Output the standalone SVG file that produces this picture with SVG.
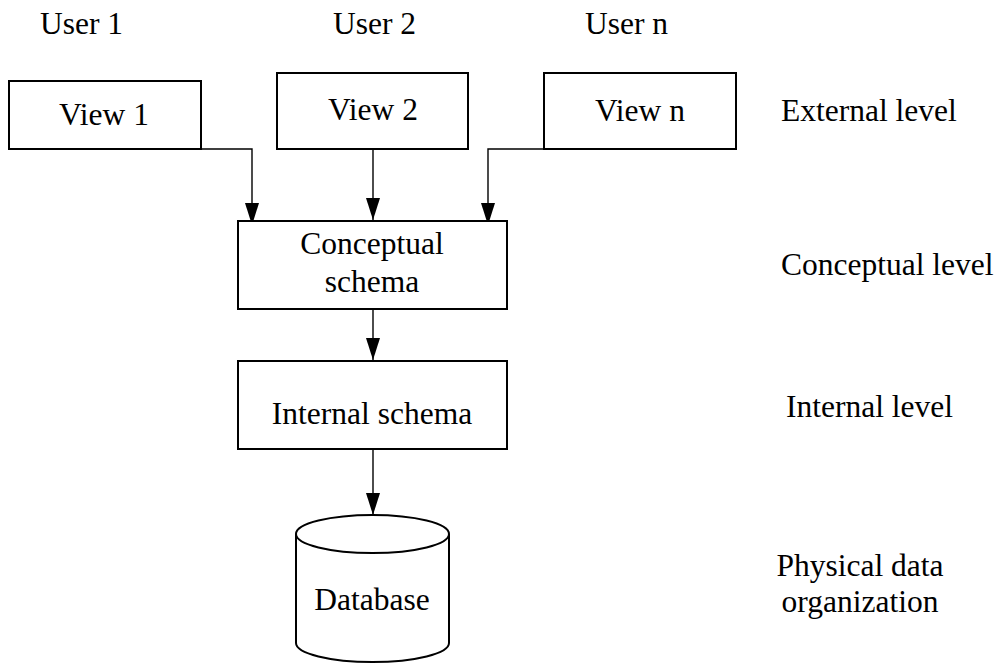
<svg xmlns="http://www.w3.org/2000/svg" width="1002" height="663" viewBox="0 0 1002 663">
<style>
text{font-family:"Liberation Serif","Times New Roman",serif;font-size:31.5px;fill:#000}
.box{fill:#fff;stroke:#000;stroke-width:2}
.c{text-anchor:middle}
.conn{fill:none;stroke:#000;stroke-width:1.4}
</style>
<defs>
<marker id="ah" markerUnits="userSpaceOnUse" markerWidth="22" markerHeight="14" refX="22" refY="7" orient="auto">
<path d="M0,0 L22,7 L0,14 z" fill="#000"/>
</marker>
</defs>
<rect width="1002" height="663" fill="#fff"/>
<g id="labels">
<text x="40" y="34">User 1</text>
<text x="333" y="34">User 2</text>
<text x="585" y="34">User n</text>
<text x="781" y="121">External level</text>
<text x="781" y="275">Conceptual level</text>
<text x="786" y="417">Internal level</text>
<text x="860" y="576" class="c">Physical data</text>
<text x="860" y="612" class="c">organization</text>
</g>
<g id="connectors">
<path class="conn" d="M201,149 H252 V225" marker-end="url(#ah)"/>
<path class="conn" d="M373,149 V220" marker-end="url(#ah)"/>
<path class="conn" d="M544,149 H488 V225" marker-end="url(#ah)"/>
<path class="conn" d="M373,309 V360" marker-end="url(#ah)"/>
<path class="conn" d="M373,449 V515" marker-end="url(#ah)"/>
</g>
<g id="view1">
<rect class="box" x="9" y="81" width="192" height="68"/>
<text x="104" y="125" class="c">View 1</text>
</g>
<g id="view2">
<rect class="box" x="277" y="73" width="191" height="76"/>
<text x="373" y="120" class="c">View 2</text>
</g>
<g id="viewn">
<rect class="box" x="544" y="73" width="192" height="76"/>
<text x="640" y="121" class="c">View n</text>
</g>
<g id="conceptual">
<rect class="box" x="238" y="221" width="269" height="88"/>
<text x="372" y="254" class="c">Conceptual</text>
<text x="372" y="292" class="c">schema</text>
</g>
<g id="internal">
<rect class="box" x="238" y="361" width="269" height="88"/>
<text x="372" y="424" class="c">Internal schema</text>
</g>
<g id="database">
<path d="M296,534 V643 A76.5,19 0 0 0 449,643 V534" fill="#fff" stroke="#000" stroke-width="2"/>
<ellipse cx="372.5" cy="534" rx="76.5" ry="19" fill="#fff" stroke="#000" stroke-width="2"/>
<text x="372" y="610" class="c">Database</text>
</g>
</svg>
